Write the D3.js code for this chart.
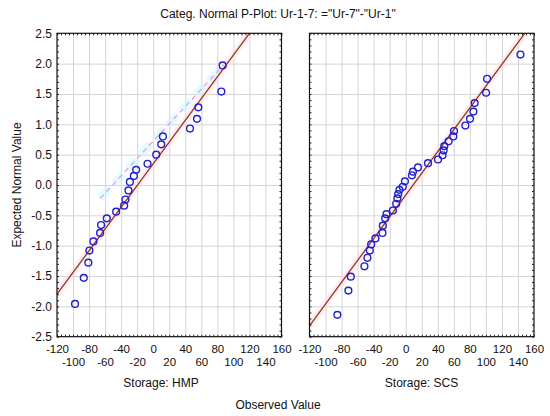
<!DOCTYPE html>
<html>
<head>
<meta charset="utf-8">
<script src="https://cdn.jsdelivr.net/npm/d3@7"></script>
<style>
  body { margin: 0; background: #fff; }
  svg { display: block; font-family: "Liberation Sans", Arial, sans-serif; }
</style>
</head>
<body>
<svg id="chart" width="550" height="416"></svg>
<script>
const hmpObserved = [86.6, 85, 56.3, 54.6, 45.9, 12.1, 10, 3.75, -7.1, -21.25, -24.1, -29.1,
                     -30.9, -34.6, -36.25, -46.25, -57.9, -65, -66.25, -74.6, -79.6, -80.9, -86.6, -97.5];
const hmpExpected = [1.97, 1.54, 1.28, 1.09, 0.93, 0.80, 0.67, 0.50, 0.35, 0.25, 0.15, 0.05,
                     -0.09, -0.24, -0.34, -0.44, -0.55, -0.66, -0.79, -0.93, -1.08, -1.28, -1.53, -1.96];

const scsObserved = [143.1, 101.5, 100.25, 86, 84.4, 80.25, 74.4, 60.25, 59.4, 53.5, 48.1, 47.25, 46,
                     40.25, 27.75, 15.25, 9, 7.75, -1, -3.75, -7.75, -9.4, -10.4, -11.9, -16, -24,
                     -25.6, -28.5, -29, -37.75, -43.1, -44.75, -47.75, -51.5, -68.5, -71.5, -85.25];
const scsExpected = [2.15, 1.75, 1.52, 1.35, 1.21, 1.09, 0.98, 0.89, 0.80, 0.72, 0.64, 0.57, 0.49,
                     0.42, 0.36, 0.29, 0.22, 0.16, 0.06, -0.03, -0.08, -0.15, -0.22, -0.31, -0.42, -0.48,
                     -0.55, -0.67, -0.79, -0.88, -0.98, -1.08, -1.20, -1.34, -1.51, -1.74, -2.14];

// fitted normal lines (observed, expected) end points
const hmpFit = [[-120, -1.8], [120, 2.5]];
const scsFit = [[-120, -2.32], [148.5, 2.5]];
// faint dashed line seen in the HMP panel
const hmpGhost = [[-66, -0.22], [88, 1.98]];

const xTicksTop = [-120, -80, -40, 0, 40, 80, 120, 160];
const xTicksLow = [-100, -60, -20, 20, 60, 100, 140];
const yTicks = [-2.5, -2.0, -1.5, -1.0, -0.5, 0.0, 0.5, 1.0, 1.5, 2.0, 2.5];

const title = 'Categ. Normal P-Plot: Ur-1-7: ="Ur-7"-"Ur-1"';

const panels = [
  { label: "Storage: HMP", obs: hmpObserved, exp: hmpExpected, fit: hmpFit, ghost: hmpGhost, left: 57, labelX: 104 },
  { label: "Storage: SCS", obs: scsObserved, exp: scsExpected, fit: scsFit, ghost: null, left: 309.5, labelX: 112 }
];

const svg = d3.select("#chart");
const plotTop = 33.3, pw = 224.5, ph = 303.4;

const x = d3.scaleLinear().domain([-120, 160]).range([0, pw]);
const y = d3.scaleLinear().domain([-2.5, 2.5]).range([ph, 0]);

svg.append("text")
   .attr("x", 278).attr("y", 18)
   .attr("text-anchor", "middle")
   .attr("font-size", 12)
   .attr("fill", "#111")
   .text(title);

svg.append("text")
   .attr("transform", "translate(20.5,185) rotate(-90)")
   .attr("text-anchor", "middle")
   .attr("font-size", 12)
   .attr("fill", "#111")
   .text("Expected Normal Value");

svg.append("text")
   .attr("x", 278).attr("y", 409)
   .attr("text-anchor", "middle")
   .attr("font-size", 12)
   .attr("fill", "#111")
   .text("Observed Value");

const line = d3.line().x(d => x(d[0])).y(d => y(d[1]));

panels.forEach((p, i) => {
  const g = svg.append("g").attr("transform", `translate(${p.left},${plotTop})`);

  // grid
  g.append("g")
   .attr("transform", `translate(0,${ph})`)
   .call(d3.axisBottom(x).tickValues(d3.range(-100, 160, 20)).tickSize(-ph).tickFormat(""))
   .call(a => a.select(".domain").remove())
   .selectAll("line").attr("stroke", "#d4d4d4");
  g.append("g")
   .call(d3.axisLeft(y).tickValues(yTicks.slice(1, -1)).tickSize(-pw).tickFormat(""))
   .call(a => a.select(".domain").remove())
   .selectAll("line").attr("stroke", "#d4d4d4");

  // fitted line with its pale halo
  g.append("path").datum(p.fit)
   .attr("d", line).attr("fill", "none")
   .attr("stroke", "#ffd6e2").attr("stroke-width", 7).attr("opacity", 0.45);

  if (p.ghost) {
    g.append("path").datum(p.ghost)
     .attr("d", line).attr("fill", "none")
     .attr("stroke", "#c4fbff").attr("stroke-width", 8)
     .attr("stroke-dasharray", "14,6").attr("opacity", 0.55);
    g.append("path").datum(p.ghost)
     .attr("d", line).attr("fill", "none")
     .attr("stroke", "#ff8ae6").attr("stroke-width", 1.2)
     .attr("stroke-dasharray", "5,4");
  }

  g.append("path").datum(p.fit)
   .attr("d", line).attr("fill", "none")
   .attr("stroke", "#8e3a1e").attr("stroke-width", 1.3);

  // points
  g.selectAll("circle")
   .data(p.obs.map((v, k) => [v, p.exp[k]]))
   .join("circle")
     .attr("cx", d => x(d[0]))
     .attr("cy", d => y(d[1]))
     .attr("r", 3.4)
     .attr("fill", "none")
     .attr("stroke", "#2020d0")
     .attr("stroke-width", 1.4);

  // inward ticks on every side
  const minorX = d3.range(-120, 161, 5), minorY = d3.range(-25, 26).map(v => v / 10);
  const tickSides = [
    [d3.axisBottom(x).tickValues(minorX), `translate(0,${ph})`],
    [d3.axisTop(x).tickValues(minorX), null],
    [d3.axisLeft(y).tickValues(minorY), null],
    [d3.axisRight(y).tickValues(minorY), `translate(${pw},0)`]
  ];
  tickSides.forEach(([ax, tr]) => {
    const t = g.append("g")
      .call(ax.tickSize(-2).tickFormat(""))
      .call(a => a.select(".domain").remove());
    if (tr) t.attr("transform", tr);
    t.selectAll("line").attr("stroke", "#222");
  });

  // frame
  g.append("rect")
   .attr("width", pw).attr("height", ph)
   .attr("fill", "none").attr("stroke", "#111").attr("stroke-width", 1.2);

  // x tick labels, two staggered rows
  [[xTicksTop, 8], [xTicksLow, 21.5]].forEach(([vals, pad]) => {
    g.append("g")
     .attr("transform", `translate(0,${ph})`)
     .call(d3.axisBottom(x).tickValues(vals).tickSize(0).tickPadding(pad).tickFormat(d => String(d)))
     .call(a => a.select(".domain").remove())
     .selectAll("text")
       .attr("font-size", 11.5)
       .attr("font-family", "Liberation Sans, Arial, sans-serif")
       .attr("fill", "#111");
  });

  if (i === 0) {
    g.append("g")
     .call(d3.axisLeft(y).tickValues(yTicks).tickSize(0).tickPadding(5).tickFormat(d => d.toFixed(1)))
     .call(a => a.select(".domain").remove())
     .selectAll("text")
       .attr("font-size", 12)
       .attr("font-family", "Liberation Sans, Arial, sans-serif")
       .attr("fill", "#111");
  }

  g.append("text")
   .attr("x", p.labelX).attr("y", ph + 50.5)
   .attr("text-anchor", "middle")
   .attr("font-size", 12)
   .attr("fill", "#111")
   .text(p.label);
});
</script>
</body>
</html>
